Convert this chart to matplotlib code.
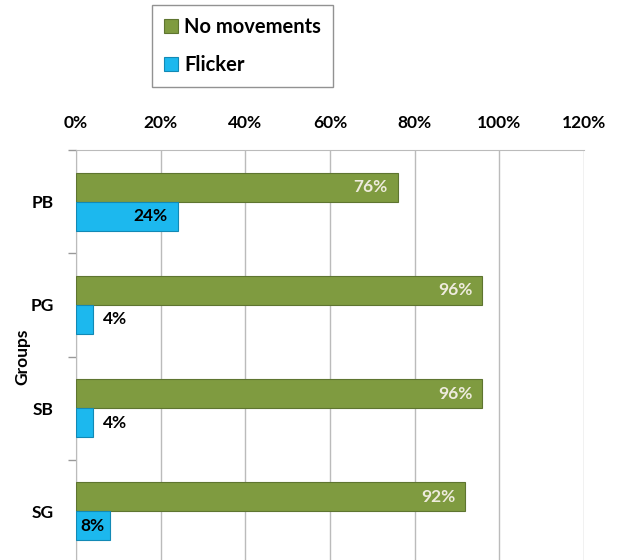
import numpy as np
import matplotlib.pyplot as plt

plt.rcParams['font.family'] = ['Lato', 'DejaVu Sans']

groups = ['PB', 'PG', 'SB', 'SG']
no_movements = [76, 96, 96, 92]
flicker = [24, 4, 4, 8]
ticks = [0, 20, 40, 60, 80, 100, 120]

green = '#7F9B40'
blue = '#1CB8EE'

fig = plt.figure(figsize=(6.17, 5.6), dpi=100)
ax = fig.add_axes([0.123, -0.0054, 0.8235, 0.7375])

y = np.arange(len(groups))
h = 0.28
b1 = ax.barh(y - h / 2, no_movements, height=h, color=green, edgecolor='#5E7530', linewidth=0.8,
             label='No movements', zorder=3)
b2 = ax.barh(y + h / 2, flicker, height=h, color=blue, edgecolor='#1289B5', linewidth=0.8,
             label='Flicker', zorder=3)

fs = 12.5
for yi, v in zip(y, no_movements):
    ax.text(v - 2.3, yi - h / 2, f'{v}%', ha='right', va='center', color='#EEEBDD',
            fontsize=fs, fontweight='bold', zorder=4)
for yi, v in zip(y, flicker):
    if v >= 20:
        ax.text(v - 2.3, yi + h / 2, f'{v}%', ha='right', va='center', color='black',
                fontsize=fs, fontweight='bold', zorder=4)
    elif v >= 8:
        ax.text(v / 2, yi + h / 2, f'{v}%', ha='center', va='center', color='black',
                fontsize=fs, fontweight='bold', zorder=4)
    else:
        ax.text(v + 2.5, yi + h / 2, f'{v}%', ha='left', va='center', color='black',
                fontsize=fs, fontweight='bold', zorder=4)

ax.set_xlim(0, 120)
ax.set_ylim(3.5, -0.5)
ax.set_xticks(ticks)
ax.set_xticklabels([f'{t}%' for t in ticks], fontsize=fs, fontweight='bold')
ax.xaxis.tick_top()
ax.tick_params(axis='x', length=0, pad=14)
ax.set_yticks(y)
ax.set_yticklabels(groups, fontsize=fs, fontweight='bold')
ax.set_yticks(np.arange(-0.5, 4, 1), minor=True)
ax.tick_params(axis='y', which='major', length=0, pad=16)
ax.tick_params(axis='y', which='minor', length=6, color='#999999', width=1)
ax.grid(axis='x', color='#BBBBBB', linewidth=1, zorder=0)
for s in ['right', 'bottom']:
    ax.spines[s].set_visible(False)
ax.spines['left'].set_color('#BBBBBB')
ax.spines['top'].set_color('#BBBBBB')
ax.set_ylabel('Groups', fontsize=fs, fontweight='bold', labelpad=0)

fig.legend(handles=[b1, b2], loc='upper left', bbox_to_anchor=(0.2464, 0.991),
           borderaxespad=0, prop={'size': 14.5, 'weight': 'bold'}, frameon=True,
           fancybox=False, edgecolor='#777777', handlelength=0.7, handleheight=0.7,
           handletextpad=0.3, labelspacing=0.9, borderpad=0.6)

fig.savefig('out.png', dpi=100)
